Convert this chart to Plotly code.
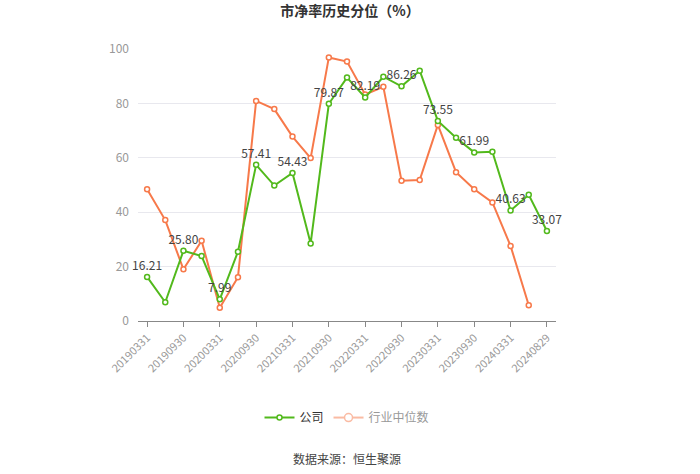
import plotly.graph_objects as go

dates = ["20190331", "20190630", "20190930", "20191231", "20200331", "20200630",
         "20200930", "20201231", "20210331", "20210630", "20210930", "20211231",
         "20220331", "20220630", "20220930", "20221231", "20230331", "20230630",
         "20230930", "20231231", "20240331", "20240630", "20240829"]
company = [16.21, 6.9, 25.80, 23.9, 7.99, 25.5, 57.41, 49.8, 54.43, 28.5, 79.87, 89.5,
           82.19, 89.8, 86.26, 92.0, 73.55, 67.4, 61.99, 62.2, 40.63, 46.4, 33.07]
industry = [48.4, 37.1, 19.0, 29.5, 4.9, 16.1, 80.9, 77.9, 67.8, 59.9, 96.9, 95.4,
            83.3, 86.1, 51.6, 51.8, 72.1, 54.7, 48.4, 43.6, 27.6, 5.8, None]
tick_labels = dates[::2]

green = "#52b91c"
orange = "#f7794a"
font_fam = "Noto Sans CJK SC, sans-serif"

labels = [f"{v:.2f}" if i % 2 == 0 else "" for i, v in enumerate(company)]

fig = go.Figure()
fig.add_trace(go.Scatter(
    x=dates, y=industry, mode="lines+markers", name="行业中位数",
    line=dict(color=orange, width=2),
    marker=dict(symbol="circle", size=5, color="white", line=dict(color=orange, width=1.5)),
    showlegend=False, connectgaps=False,
))
fig.add_trace(go.Scatter(
    x=dates, y=company, mode="lines+markers+text", name="公司",
    line=dict(color=green, width=2),
    marker=dict(symbol="circle", size=5, color="white", line=dict(color=green, width=1.5)),
    text=labels, textposition="top center", cliponaxis=False,
    textfont=dict(size=12, color="#444", family=font_fam),
))
# legend-only entry for industry (faded style as in reference)
fig.add_trace(go.Scatter(
    x=[None], y=[None], mode="lines+markers",
    name="<span style='color:#999'>行业中位数</span>",
    line=dict(color=orange, width=2),
    marker=dict(symbol="circle", size=8, color="white", line=dict(color=orange, width=1.5)),
    opacity=0.5,
))

fig.update_layout(
    width=700, height=474,
    margin=dict(l=138, r=144, t=49, b=153),
    paper_bgcolor="white", plot_bgcolor="white",
    font=dict(family=font_fam, color="#888"),
    title=dict(text="<b>市净率历史分位（%）</b>", x=0.5, xanchor="center", y=0.976, yanchor="middle",
               font=dict(size=14, color="#333", family=font_fam)),
    showlegend=True,
    legend=dict(orientation="h", x=0.5, xanchor="center", y=-0.355, yanchor="middle",
                font=dict(size=12, color="#333", family=font_fam), itemwidth=30),
    xaxis=dict(type="category", range=[-0.5, len(dates) - 0.5],
               tickmode="array", tickvals=tick_labels, ticktext=tick_labels,
               tickangle=-45, tickfont=dict(size=11, color="#999"),
               ticks="outside", ticklen=5, tickcolor="#888",
               showline=True, linecolor="#888", linewidth=1, showgrid=False, zeroline=False),
    yaxis=dict(range=[0, 100], tickvals=[0, 20, 40, 60, 80, 100],
               tickfont=dict(size=12, color="#999"), showgrid=True, gridcolor="#e8e8ee",
               zeroline=False, showline=False, ticks="", ticklabelstandoff=8),
    annotations=[dict(text="数据来源：恒生聚源", x=0.5, xref="paper", y=-0.504, yref="paper",
                      xanchor="center", yanchor="middle", showarrow=False,
                      font=dict(size=12, color="#444", family=font_fam))],
)
fig.write_html("out.html")
